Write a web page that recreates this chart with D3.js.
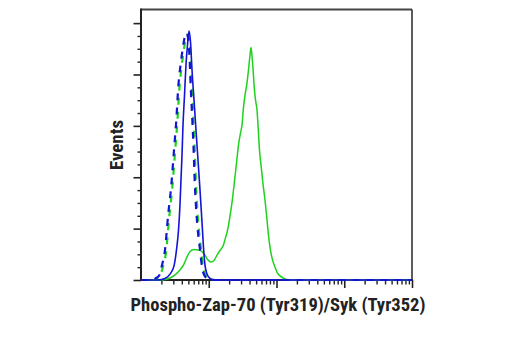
<!DOCTYPE html>
<html>
<head>
<meta charset="utf-8">
<script src="https://cdn.jsdelivr.net/npm/d3@7"></script>
<style>
  html, body { margin: 0; padding: 0; background: #fff; }
  svg { display: block; }
  .lbl { font-family: "Liberation Sans Narrow", "Arial Narrow", "Roboto Condensed", "Liberation Sans", Arial, sans-serif; font-weight: bold; fill: #222; }
</style>
</head>
<body>
<svg id="chart" width="520" height="350"></svg>
<script>
// Fluorescence intensity (log channel) and event counts for each histogram
const blueSolidX = [100, 178, 226, 268, 307, 334, 358, 376, 389, 403, 417, 439, 461, 486, 511, 538, 566, 606, 648, 694, 743, 795, 837, 880, 942, 1043, 1237, 1738, 1000000];
const blueSolidY = [0, 0, 0.6, 2.3, 5.5, 11.7, 19.5, 29.2, 38.9, 48.7, 60.4, 72.0, 83.7, 91.5, 96.9, 92.7, 81.8, 70.1, 58.4, 46.7, 35.0, 22.6, 12.5, 5.8, 2.3, 0.6, 0, 0, 0];

const blueDashX = [100, 150, 167, 184, 201, 226, 250, 282, 307, 332, 355, 383, 410, 439, 470, 494, 516, 542, 572, 598, 622, 664, 743, 795, 880, 1009, 1237, 1000000];
const blueDashY = [0, 0, 0.8, 1.6, 5.1, 11.7, 24.5, 37.8, 50.6, 62.3, 75.1, 83.7, 89.5, 94.2, 96.2, 94.2, 88.4, 75.1, 62.3, 50.6, 37.8, 24.5, 11.7, 5.1, 1.4, 0.2, 0, 0];

const greenDashX = [100, 156, 174, 191, 209, 235, 260, 293, 319, 345, 369, 398, 426, 457, 489, 514, 537, 564, 595, 622, 647, 691, 773, 827, 915, 1049, 1287, 1000000];
const greenDashY = [0, 0, 0.7, 1.5, 4.8, 11.2, 24.0, 37.5, 50.2, 62.0, 74.6, 83.2, 89.0, 93.8, 95.6, 93.6, 88.0, 74.8, 62.0, 50.3, 37.4, 24.2, 11.5, 5.0, 1.4, 0.2, 0, 0];

const greenSolidX = [100, 191, 226, 268, 318, 376, 431, 478, 529, 606, 694, 795, 880, 975, 1080, 1196, 1324, 1466, 1623, 1767, 1924, 2059, 2227, 2384, 2568, 2749, 2942, 3095, 3259, 3429, 3632, 3861, 4064, 4204, 4349, 4499, 4702, 4898, 5155, 5388, 5611, 5904, 6318, 6765, 7239, 7619, 8017, 8582, 9343, 10170, 11260, 12900, 15290, 1000000];
const greenSolidY = [0, 0, 0.2, 0.8, 2.0, 3.9, 6.2, 9.0, 11.1, 11.9, 11.7, 11.1, 9.7, 7.8, 7.0, 7.6, 9.7, 11.5, 13.2, 16.4, 20.2, 24.9, 31.1, 37.8, 45.5, 52.6, 57.2, 60.3, 67.3, 72.0, 75.9, 81.8, 87.6, 90.5, 87.2, 82.5, 74.7, 70.1, 66.2, 58.4, 50.6, 44.8, 37.4, 31.1, 23.4, 17.5, 12.8, 8.6, 5.5, 3.1, 1.6, 0.6, 0, 0];

const yMajorTicks = [0, 20, 40, 60, 80, 100];
const xLabel = "Phospho-Zap-70 (Tyr319)/Syk (Tyr352)";
const yLabel = "Events";

const svg = d3.select("#chart");
const plot = { left: 141, right: 412, top: 9.5, bottom: 280 };

const x = d3.scaleLog().domain([1e2, 1e6]).range([plot.left, plot.right]);
const y = d3.scaleLinear().domain([0, 105.3]).range([plot.bottom, plot.top]);

// Y axis: major ticks every 20, minor every 5, no labels
const yMinor = d3.range(0, 101, 5).filter(v => !yMajorTicks.includes(v));
svg.append("g")
  .attr("transform", `translate(${plot.left},0)`)
  .call(d3.axisLeft(y).tickValues(yMinor).tickSize(3.5).tickFormat(""))
  .call(g => g.select(".domain").remove())
  .call(g => g.selectAll("line").attr("stroke", "#222").attr("stroke-width", 1.4));
svg.append("g")
  .attr("transform", `translate(${plot.left},0)`)
  .call(d3.axisLeft(y).tickValues(yMajorTicks).tickSize(7.5).tickFormat(""))
  .call(g => g.select(".domain").remove())
  .call(g => g.selectAll("line").attr("stroke", "#222").attr("stroke-width", 1.6));

// X axis: log decades as major ticks, 2-9 as minor ticks
const allX = x.ticks().filter(v => v > x.domain()[0]);
const isDecade = v => Math.abs(Math.log10(v) - Math.round(Math.log10(v))) < 1e-9;
svg.append("g")
  .attr("transform", `translate(0,${plot.bottom})`)
  .call(d3.axisBottom(x).tickValues(allX.filter(v => !isDecade(v))).tickSize(4.5).tickFormat(""))
  .call(g => g.select(".domain").remove())
  .call(g => g.selectAll("line").attr("stroke", "#222").attr("stroke-width", 1.4));
svg.append("g")
  .attr("transform", `translate(0,${plot.bottom})`)
  .call(d3.axisBottom(x).tickValues(allX.filter(isDecade)).tickSize(8).tickFormat(""))
  .call(g => g.select(".domain").remove())
  .call(g => g.selectAll("line").attr("stroke", "#222").attr("stroke-width", 1.6));

// Plot frame
svg.append("line").attr("x1", plot.left).attr("x2", plot.right).attr("y1", plot.top).attr("y2", plot.top)
  .attr("stroke", "#444").attr("stroke-width", 1.8);
svg.append("line").attr("x1", plot.right).attr("x2", plot.right).attr("y1", plot.top).attr("y2", plot.bottom)
  .attr("stroke", "#333").attr("stroke-width", 1.6);
svg.append("line").attr("x1", plot.left).attr("x2", plot.left).attr("y1", plot.top - 0.9).attr("y2", plot.bottom + 1)
  .attr("stroke", "#222").attr("stroke-width", 2);
svg.append("line").attr("x1", plot.left - 1).attr("x2", plot.right + 0.8).attr("y1", plot.bottom).attr("y2", plot.bottom)
  .attr("stroke", "#222").attr("stroke-width", 2);

// Histograms
const line = d3.line().x(d => x(d[0])).y(d => y(d[1])).curve(d3.curveMonotoneX);
const pairs = (xs, ys) => xs.map((v, i) => [v, ys[i]]);

svg.append("path").datum(pairs(greenSolidX, greenSolidY))
  .attr("d", line).attr("fill", "none").attr("stroke", "#1ed21e").attr("stroke-width", 1.5);
svg.append("path").datum(pairs(greenDashX, greenDashY))
  .attr("d", line).attr("fill", "none").attr("stroke", "#1ed21e").attr("stroke-width", 2.2)
  .attr("stroke-dasharray", "7,7").attr("stroke-dashoffset", 3);
svg.append("path").datum(pairs(blueDashX, blueDashY))
  .attr("d", line).attr("fill", "none").attr("stroke", "#1414d6").attr("stroke-width", 2.2)
  .attr("stroke-dasharray", "7,7");
svg.append("path").datum(pairs(blueSolidX, blueSolidY))
  .attr("d", line).attr("fill", "none").attr("stroke", "#1414d6").attr("stroke-width", 1.6);

// Axis titles
svg.append("text").attr("class", "lbl")
  .attr("x", 278).attr("y", 310.5)
  .attr("text-anchor", "middle")
  .attr("font-size", 18.5)
  .attr("textLength", 295).attr("lengthAdjust", "spacingAndGlyphs")
  .text(xLabel);
svg.append("text").attr("class", "lbl")
  .attr("transform", "translate(122.5,145) rotate(-90)")
  .attr("text-anchor", "middle")
  .attr("font-size", 18.5)
  .attr("textLength", 50).attr("lengthAdjust", "spacingAndGlyphs")
  .text(yLabel);
</script>
</body>
</html>
